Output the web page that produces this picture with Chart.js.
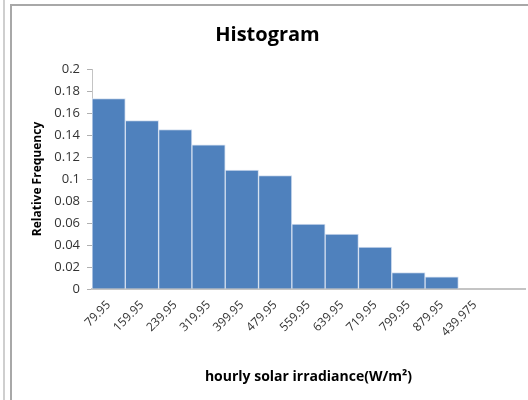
<!DOCTYPE html>
<html>
<head>
<meta charset="utf-8">
<script src="https://cdn.jsdelivr.net/npm/chart.js@4/dist/chart.umd.min.js"></script>
<style>
  html, body { margin: 0; padding: 0; background: #fff; }
  #wrap { position: relative; width: 528px; height: 400px; overflow: hidden; }
  #outer { position: absolute; left: 3px; top: 0; width: 2px; height: 400px; background: #cfcfcf; }
  #frame { position: absolute; left: 10px; top: 4px; right: -4px; bottom: -4px;
           border-left: 2px solid #a8a8a8; border-top: 2px solid #a8a8a8; }
  canvas { position: absolute; left: 0; top: 0; }
</style>
</head>
<body>
<div id="wrap">
  <div id="outer"></div>
  <div id="frame"></div>
  <canvas id="chart" width="528" height="400"></canvas>
</div>
<script>
// Bin upper limits (W/m²) and the share of hours falling in each bin
const binLabels = ["79.95", "159.95", "239.95", "319.95", "399.95", "479.95",
                   "559.95", "639.95", "719.95", "799.95", "879.95", "439.975", ""];
const relFrequency = [0.173, 0.153, 0.145, 0.131, 0.108, 0.103,
                      0.059, 0.050, 0.038, 0.015, 0.011, 0, 0];
const yTicks = [0, 0.02, 0.04, 0.06, 0.08, 0.1, 0.12, 0.14, 0.16, 0.18, 0.2];

const FONT = "'Open Sans', 'Liberation Sans', sans-serif";

new Chart(document.getElementById('chart'), {
  type: 'bar',
  data: {
    labels: binLabels,
    datasets: [{
      label: 'Relative Frequency',
      data: relFrequency,
      backgroundColor: '#4f81bd',
      borderColor: '#d3dff0',
      borderWidth: 1,
      borderSkipped: 'bottom',
      barPercentage: 1,
      categoryPercentage: 1
    }]
  },
  options: {
    responsive: false,
    animation: false,
    layout: { padding: { left: 10, right: 3, top: 0, bottom: 0 } },
    plugins: {
      legend: { display: false },
      tooltip: { enabled: false },
      title: {
        display: true,
        text: 'Histogram',
        color: '#000',
        font: { family: FONT, size: 20, weight: 'bold' },
        padding: { top: 23, bottom: 22 }
      }
    },
    scales: {
      x: {
        grid: { drawOnChartArea: false, drawTicks: true, tickLength: 4, tickColor: 'rgba(0,0,0,0)' },
        border: { color: '#c4c4c4', width: 2 },
        ticks: {
          autoSkip: false, maxRotation: 45, minRotation: 45,
          color: '#333', padding: 5,
          font: { family: FONT, size: 12 }
        },
        title: {
          display: true,
          text: 'hourly solar irradiance(W/m²)',
          color: '#000',
          font: { family: FONT, size: 14, weight: 'bold' },
          padding: { top: 0, bottom: 15 }
        },
        afterFit: s => { s.height = 111; }
      },
      y: {
        min: 0, max: 0.2,
        afterBuildTicks: s => { s.ticks = yTicks.map(v => ({ value: v })); },
        grid: { drawOnChartArea: false, drawTicks: true, tickLength: 5, color: '#b0b0b0' },
        border: { color: '#c4c4c4', width: 1 },
        ticks: {
          color: '#333', padding: 7,
          font: { family: FONT, size: 13 },
          callback: v => String(parseFloat(Number(v).toFixed(2)))
        },
        title: {
          display: true,
          text: 'Relative Frequency',
          color: '#000',
          font: { family: FONT, size: 12, weight: 'bold' },
          padding: { top: 20, bottom: 0 }
        },
        afterFit: s => { s.width = 82; }
      }
    }
  }
});
</script>
</body>
</html>
